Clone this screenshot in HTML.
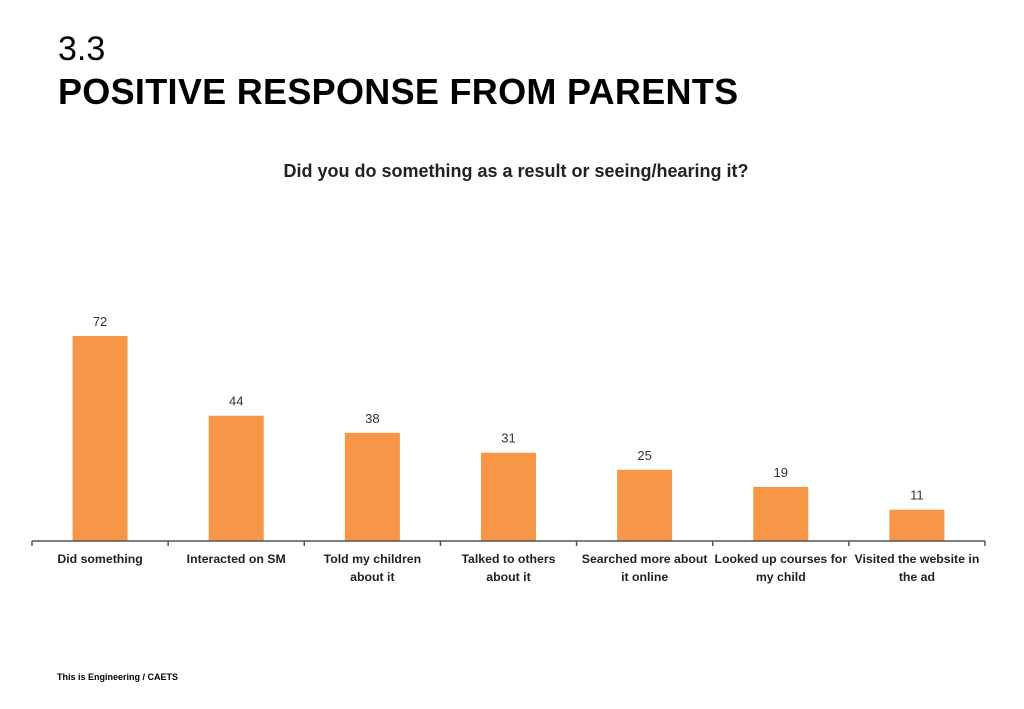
<!DOCTYPE html>
<html><head><meta charset="utf-8"><style>
body{margin:0;width:1024px;height:709px;background:#fff;overflow:hidden;position:relative;font-family:"Liberation Sans",sans-serif}
.t1{position:absolute;left:58px;top:30px;font-size:34px;color:#000}
.t2{position:absolute;left:58px;top:71px;font-size:36px;letter-spacing:0.3px;font-weight:bold;color:#000}
.foot{position:absolute;left:57px;top:672px;font-size:9px;font-weight:bold}
</style></head><body>
<div class="t1">3.3</div>
<div class="t2">POSITIVE RESPONSE FROM PARENTS</div>
<svg id="chart" width="1024" height="709" style="position:absolute;left:0;top:0">
<text x="516" y="177" text-anchor="middle" font-size="18" font-weight="bold" fill="#222">Did you do something as a result or seeing/hearing it?</text>
</svg>
<div class="foot">This is Engineering / CAETS</div>
<script>
const categories=[["Did something"],["Interacted on SM"],["Told my children","about it"],["Talked to others","about it"],["Searched more about","it online"],["Looked up courses for","my child"],["Visited the website in","the ad"]];
const values=[72,44,38,31,25,19,11];
const svg=document.getElementById('chart');const NS='http://www.w3.org/2000/svg';
const x0=32,x1=985,base=541,k=2.847,bw=55;
const cw=(x1-x0)/categories.length;
const xc=i=>x0+cw*(i+0.5);const y=v=>base-v*k;
function mk(t,a){const e=document.createElementNS(NS,t);for(const n in a)e.setAttribute(n,a[n]);svg.appendChild(e);return e;}
values.forEach((v,i)=>{
 const r=mk('rect',{x:xc(i)-bw/2,y:y(v),width:bw,height:base-y(v),fill:'#F79646'});
 
 
 const t=mk('text',{x:xc(i),y:y(v)-10,'text-anchor':'middle','font-size':13,fill:'#333'});t.textContent=v;
 
 
 categories[i].forEach((s,j)=>{const c=mk('text',{x:xc(i),y:563+j*18,'text-anchor':'middle','font-size':12.3,'font-weight':'bold',fill:'#222'});c.textContent=s;
 
 });
});
const ax=mk('line',{x1:x0,x2:x1,y1:base,y2:base,stroke:'#555','stroke-width':1.5});


for(let i=0;i<=categories.length;i++){const tk=mk('line',{x1:x0+cw*i,x2:x0+cw*i,y1:base,y2:base+5,stroke:'#555','stroke-width':1.5});
 
 }
</script>
</body></html>
